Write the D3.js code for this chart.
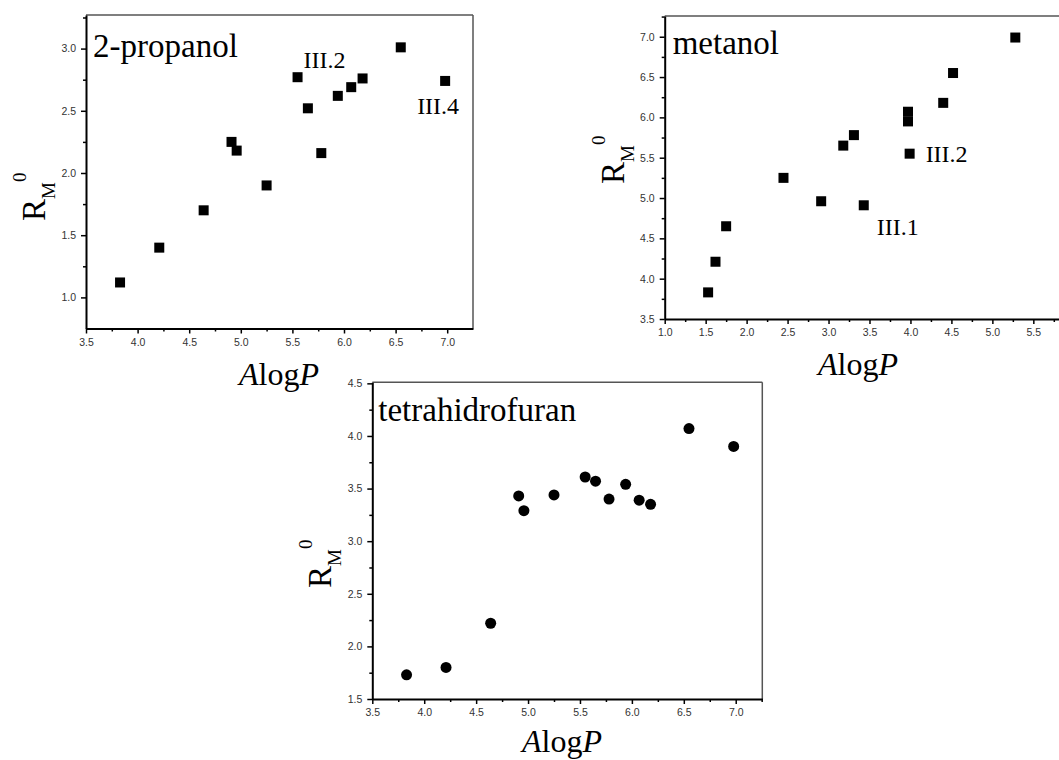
<!DOCTYPE html>
<html>
<head>
<meta charset="utf-8">
<script src="https://cdn.jsdelivr.net/npm/d3@7"></script>
<style>
  html, body { margin: 0; padding: 0; background: #fff; }
  svg { display: block; }
  .tick text { font-family: "Liberation Sans", Arial, sans-serif; font-size: 10.5px; fill: #333; }
  .serif { font-family: "Liberation Serif", "Times New Roman", serif; fill: #000; }
</style>
</head>
<body>
<svg id="chart" width="1059" height="760"></svg>
<script>
// ---- data ----
const alogP = [3.83, 4.21, 4.64, 4.91, 4.96, 5.25, 5.55, 5.65, 5.78, 5.94, 6.07, 6.18, 6.55, 6.98];
const rmPropanol = [1.12, 1.40, 1.70, 2.25, 2.18, 1.90, 2.77, 2.52, 2.16, 2.62, 2.69, 2.76, 3.01, 2.74];
const rmThf = [1.73, 1.80, 2.22, 3.43, 3.29, 3.44, 3.61, 3.57, 3.40, 3.54, 3.39, 3.35, 4.07, 3.90];
const alogPMetanol = [1.53, 1.62, 1.75, 2.45, 2.91, 3.18, 3.31, 3.43, 3.97, 3.97, 3.99, 4.40, 4.52, 5.28];
const rmMetanol = [3.83, 4.21, 4.65, 5.25, 4.96, 5.65, 5.78, 4.91, 6.07, 5.95, 5.55, 6.18, 6.55, 6.99];

const xTicksA = [3.5, 4.0, 4.5, 5.0, 5.5, 6.0, 6.5, 7.0];
const xTicksM = [1.0, 1.5, 2.0, 2.5, 3.0, 3.5, 4.0, 4.5, 5.0, 5.5];
const yTicksP = [1.0, 1.5, 2.0, 2.5, 3.0];
const yTicksM = [3.5, 4.0, 4.5, 5.0, 5.5, 6.0, 6.5, 7.0];
const yTicksT = [1.5, 2.0, 2.5, 3.0, 3.5, 4.0, 4.5];

const titles = ["2-propanol", "metanol", "tetrahidrofuran"];
// annotations: [label, point index]
const notesP = [["III.2", 6], ["III.4", 13]];
const notesM = [["III.2", 10], ["III.1", 7]];

const svg = d3.select("#chart");
const fmt = d3.format(".1f");

function minorTicks(major, step) {
  const out = [];
  for (let i = 0; i < major.length; i++) {
    out.push(major[i] + step / 2);
  }
  return out;
}

function panel(cfg) {
  const g = svg.append("g");
  const x = d3.scaleLinear().domain(cfg.xDomain).range(cfg.xRange);
  const y = d3.scaleLinear().domain(cfg.yDomain).range(cfg.yRange);
  const [x0, x1] = cfg.xRange;
  const [y0, y1] = cfg.yRange;

  // frame top & right
  g.append("line").attr("x1", x0).attr("x2", x1).attr("y1", y1).attr("y2", y1)
    .attr("stroke", "#555").attr("stroke-width", 1.5);
  g.append("line").attr("x1", x1).attr("x2", x1).attr("y1", y1).attr("y2", y0)
    .attr("stroke", "#555").attr("stroke-width", 1.5);

  // minor ticks
  const xMinor = minorTicks(cfg.xTicks, 0.5).filter(v => v < cfg.xDomain[1]);
  const yMinor = minorTicks(cfg.yTicks, 0.5).filter(v => v < cfg.yDomain[1] && v > cfg.yDomain[0]);
  const yMinorBelow = cfg.yTicks[0] - 0.25;
  if (yMinorBelow > cfg.yDomain[0]) yMinor.push(yMinorBelow);

  g.append("g").attr("transform", `translate(0,${y0})`)
    .call(d3.axisBottom(x).tickValues(xMinor).tickSize(3).tickFormat(""))
    .call(a => a.select(".domain").remove())
    .call(a => a.selectAll("line").attr("stroke", "#000").attr("stroke-width", 1.5));
  g.append("g").attr("transform", `translate(${x0},0)`)
    .call(d3.axisLeft(y).tickValues(yMinor).tickSize(3).tickFormat(""))
    .call(a => a.select(".domain").remove())
    .call(a => a.selectAll("line").attr("stroke", "#000").attr("stroke-width", 1.5));

  // major axes
  g.append("g").attr("transform", `translate(0,${y0})`)
    .call(d3.axisBottom(x).tickValues(cfg.xTicks).tickSize(5).tickSizeOuter(0).tickPadding(5).tickFormat(fmt))
    .call(a => a.select(".domain").attr("stroke", "#000").attr("stroke-width", 2))
    .call(a => a.selectAll(".tick line").attr("stroke", "#000").attr("stroke-width", 1.5));
  g.append("g").attr("transform", `translate(${x0},0)`)
    .call(d3.axisLeft(y).tickValues(cfg.yTicks).tickSize(5).tickSizeOuter(0).tickPadding(5).tickFormat(fmt))
    .call(a => a.select(".domain").attr("stroke", "#000").attr("stroke-width", 2))
    .call(a => a.selectAll(".tick line").attr("stroke", "#000").attr("stroke-width", 1.5));

  // marks
  const pts = cfg.xs.map((v, i) => [v, cfg.ys[i]]);
  if (cfg.shape === "square") {
    g.append("g").selectAll("rect").data(pts).join("rect")
      .attr("x", d => x(d[0]) - 5).attr("y", d => y(d[1]) - 5)
      .attr("width", 10).attr("height", 10).attr("fill", "#000");
  } else {
    g.append("g").selectAll("circle").data(pts).join("circle")
      .attr("cx", d => x(d[0])).attr("cy", d => y(d[1]))
      .attr("r", 5.5).attr("fill", "#000");
  }

  // title
  g.append("text").attr("class", "serif").attr("x", x0 + cfg.titleDx).attr("y", y1 + cfg.titleDy)
    .attr("font-size", 33).text(cfg.title);

  // annotations
  (cfg.notes || []).forEach(([lab, idx], k) => {
    const off = cfg.noteOffsets[k];
    g.append("text").attr("class", "serif")
      .attr("x", x(cfg.xs[idx]) + off[0]).attr("y", y(cfg.ys[idx]) + off[1])
      .attr("font-size", 24).text(lab);
  });

  // x label
  const xl = g.append("text").attr("class", "serif").attr("text-anchor", "middle")
    .attr("x", cfg.xLabelX).attr("y", y0 + cfg.xLabelDy).attr("font-size", 32);
  xl.append("tspan").attr("font-style", "italic").text("A");
  xl.append("tspan").text("log");
  xl.append("tspan").attr("font-style", "italic").text("P");

  // y label
  const yl = g.append("text").attr("class", "serif")
    .attr("transform", `translate(${x0 - 41},${cfg.yLabelY}) rotate(-90)`);
  yl.append("tspan").attr("font-size", 33).text("R");
  yl.append("tspan").attr("font-size", 19).attr("dy", 10).text("M");
  yl.append("tspan").attr("font-size", 19).attr("dy", -29).attr("dx", 0).text("0");
}

panel({
  xDomain: [3.5, 7.25], xRange: [86, 473],
  yDomain: [0.75, 3.27], yRange: [328.5, 15],
  xTicks: xTicksA, yTicks: yTicksP,
  xs: alogP, ys: rmPropanol, shape: "square",
  title: titles[0], titleDx: 7, titleDy: 42,
  notes: notesP, noteOffsets: [[6, -9], [-28, 33]],
  xLabelX: 279, xLabelDy: 56, yLabelY: 221
});

panel({
  xDomain: [1.0, 5.85], xRange: [664.7, 1062],
  yDomain: [3.5, 7.257], yRange: [319, 16],
  xTicks: xTicksM, yTicks: yTicksM,
  xs: alogPMetanol, ys: rmMetanol, shape: "square",
  title: titles[1], titleDx: 8, titleDy: 38,
  notes: notesM, noteOffsets: [[16, 8], [13, 30]],
  xLabelX: 858, xLabelDy: 56, yLabelY: 184
});

panel({
  xDomain: [3.5, 7.256], xRange: [372.3, 762.3],
  yDomain: [1.5, 4.51], yRange: [699, 382.3],
  xTicks: xTicksA, yTicks: yTicksT,
  xs: alogP, ys: rmThf, shape: "circle",
  title: titles[2], titleDx: 6, titleDy: 39,
  notes: [], noteOffsets: [],
  xLabelX: 562, xLabelDy: 53, yLabelY: 588
});
</script>
</body>
</html>
